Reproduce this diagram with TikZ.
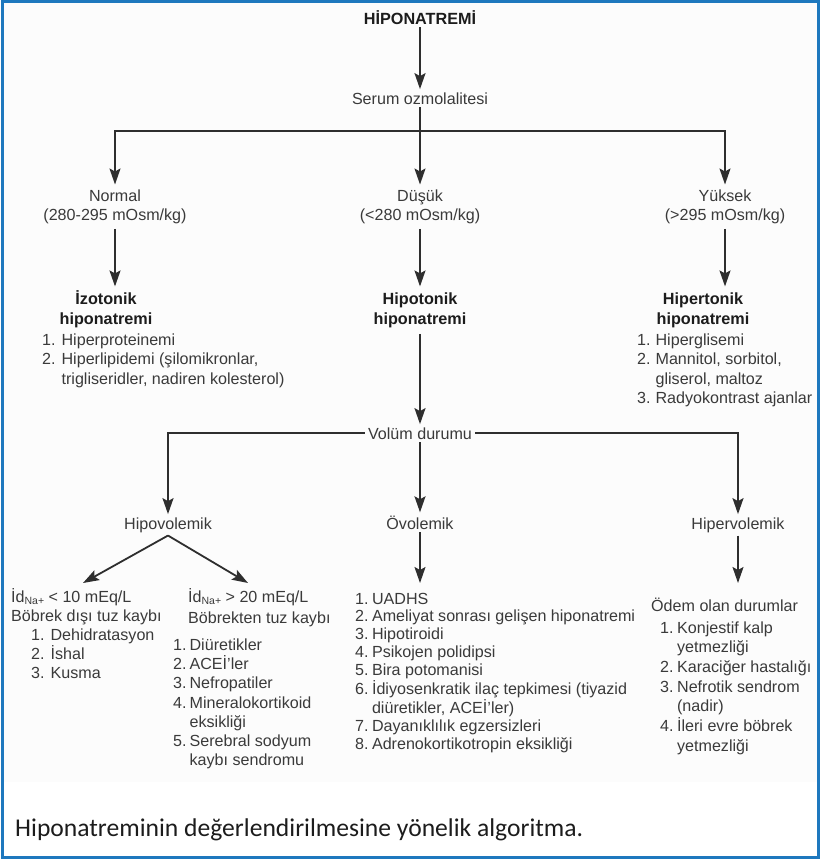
\documentclass[tikz,border=0pt]{standalone}
\usepackage{fontspec}
\setmainfont{Liberation Sans}
\newfontfamily\capfont{Carlito}
\usetikzlibrary{arrows.meta}
\definecolor{txtc}{HTML}{3A3A3A}
\definecolor{ttlc}{HTML}{1C1C1C}
\definecolor{linec}{HTML}{2E2E2E}
\definecolor{framec}{HTML}{1E78BE}
\definecolor{bgc}{HTML}{FCFCFC}
\newcommand\ctrtab[1]{\begin{tabular}[t]{@{}c@{}}#1\end{tabular}}
\newcommand\lfttab[1]{\begin{tabular}[t]{@{}l@{}}#1\end{tabular}}
\newcommand\numtab[2]{\begin{tabular}[t]{@{}l@{\hspace{#1}}l@{}}#2\end{tabular}}
\newcommand\nasub{\raisebox{-2.5pt}{\fontsize{10.5}{10.5}\selectfont Na+}}
\tikzset{
  lineconn/.style={draw=linec, line width=1.8pt},
  arr/.style={lineconn, -{Stealth[length=16pt,width=11pt,inset=3pt]}},
  lbl/.style={anchor=base, inner sep=3pt},
  lst/.style={anchor=base west, inner sep=0pt},
  ttl/.style={anchor=base, inner sep=3pt, text=ttlc, font=\bfseries\fontsize{16.2}{20.5}\selectfont},
}
\begin{document}
\begin{tikzpicture}[x=1pt,y=-1pt,
  every node/.style={text=txtc, font=\fontsize{16.1}{19}\selectfont}]
\useasboundingbox (0,0) rectangle (820,860);
\fill[bgc] (4,3) rectangle (817,782);
\draw[framec, line width=2.2pt] (2.5,1.5) rectangle (818.5,857.5);

% top
\node[ttl] (hipo) at (420,24) {HİPONATREMİ};
\node[lbl] (serum) at (420,104) {Serum ozmolalitesi};
\coordinate (br1) at (420,131);
\draw[arr] (hipo) -- (serum);
\draw[lineconn] (serum) -- (br1);

\node[lbl] (normal) at (115,201) {\ctrtab{Normal\\(280-295 mOsm/kg)}};
\node[lbl] (dusuk) at (420,201) {\ctrtab{Düşük\\(<280 mOsm/kg)}};
\node[lbl] (yuksek) at (725,201) {\ctrtab{Yüksek\\(>295 mOsm/kg)}};
\draw[arr] (br1) -| (normal);
\draw[arr] (br1) -| (yuksek);
\draw[arr] (br1) -- (dusuk);

\node[ttl] (izo) at (106,304) {\ctrtab{İzotonik\\hiponatremi}};
\node[ttl] (hipot) at (420,304) {\ctrtab{Hipotonik\\hiponatremi}};
\node[ttl] (hipert) at (703,304) {\ctrtab{Hipertonik\\hiponatremi}};
\draw[arr] (normal.south) -- (normal.south |- izo.north);
\draw[arr] (dusuk) -- (hipot);
\draw[arr] (yuksek.south) -- (yuksek.south |- hipert.north);

\node[lst, font=\fontsize{16.1}{19.5}\selectfont] (izolist) at (42,345)
  {\numtab{6pt}{1. & Hiperproteinemi\\
            2. & Hiperlipidemi (şilomikronlar,\\
               & trigliseridler, nadiren kolesterol)}};
\node[lst, font=\fontsize{16.1}{19.5}\selectfont] (hipertlist) at (637,345)
  {\numtab{5pt}{1. & Hiperglisemi\\
            2. & Mannitol, sorbitol,\\
               & gliserol, maltoz\\
            3. & Radyokontrast ajanlar}};

% volume
\node[lbl] (volum) at (420,439) {Volüm durumu};
\draw[arr] (hipot) -- (volum);
\node[lbl] (hipov) at (168,529) {Hipovolemik};
\node[lbl] (ovol) at (420,529) {Övolemik};
\node[lbl] (hiperv) at (738,529) {Hipervolemik};
\draw[arr] (volum.west) -| (hipov);
\draw[arr] (volum.east) -| (hiperv);
\draw[arr] (volum) -- (ovol);

\coordinate (tipL) at (83,583);
\coordinate (tipR) at (248,583);
\draw[arr] (hipov.south) -- (tipL);
\draw[arr] (hipov.south) -- (tipR);
\draw[arr] (ovol) -- (ovol.south |- tipL);
\draw[arr] (hiperv) -- (hiperv.south |- tipL);

% bottom lists
\node[lst] (lnahead) at (11,602)
  {\lfttab{İd\nasub{} < 10 mEq/L\\Böbrek dışı tuz kaybı}};
\node[lst, font=\fontsize{16.1}{18.5}\selectfont] (lnalist) at (31,640)
  {\numtab{6pt}{1. & Dehidratasyon\\2. & İshal\\3. & Kusma}};
\node[lst, font=\fontsize{16.1}{21}\selectfont] (hnahead) at (188,602)
  {\lfttab{İd\nasub{} > 20 mEq/L\\Böbrekten tuz kaybı}};
\node[lst, font=\fontsize{16.1}{19.2}\selectfont] (hnalist) at (173,650)
  {\numtab{3pt}{1. & Diüretikler\\2. & ACEİ’ler\\3. & Nefropatiler\\
              4. & Mineralokortikoid\\ & eksikliği\\
              5. & Serebral sodyum\\ & kaybı sendromu}};
\node[lst, font=\fontsize{16.1}{17.8}\selectfont] (ovlist) at (355,604)
  {\numtab{3.4pt}{1. & UADHS\\
              2. & Ameliyat sonrası gelişen hiponatremi\\
              3. & Hipotiroidi\\
              4. & Psikojen polidipsi\\
              5. & Bira potomanisi\\
              6. & İdiyosenkratik ilaç tepkimesi (tiyazid\\
                 & diüretikler, ACEİ’ler)\\
              7. & Dayanıklılık egzersizleri\\
              8. & Adrenokortikotropin eksikliği}};
\node[lst] (odem) at (651,611) {Ödem olan durumlar};
\node[lst, font=\fontsize{16.1}{19.7}\selectfont] (odemlist) at (660,633)
  {\numtab{3.5pt}{1. & Konjestif kalp\\ & yetmezliği\\
              2. & Karaciğer hastalığı\\
              3. & Nefrotik sendrom\\ & (nadir)\\
              4. & İleri evre böbrek\\ & yetmezliği}};

% caption
\node[anchor=base west, inner sep=0pt, text=ttlc,
      font=\capfont\fontsize{25.6}{30}\selectfont] (caption) at (15,836)
  {Hiponatreminin değerlendirilmesine yönelik algoritma.};
\end{tikzpicture}
\end{document}
